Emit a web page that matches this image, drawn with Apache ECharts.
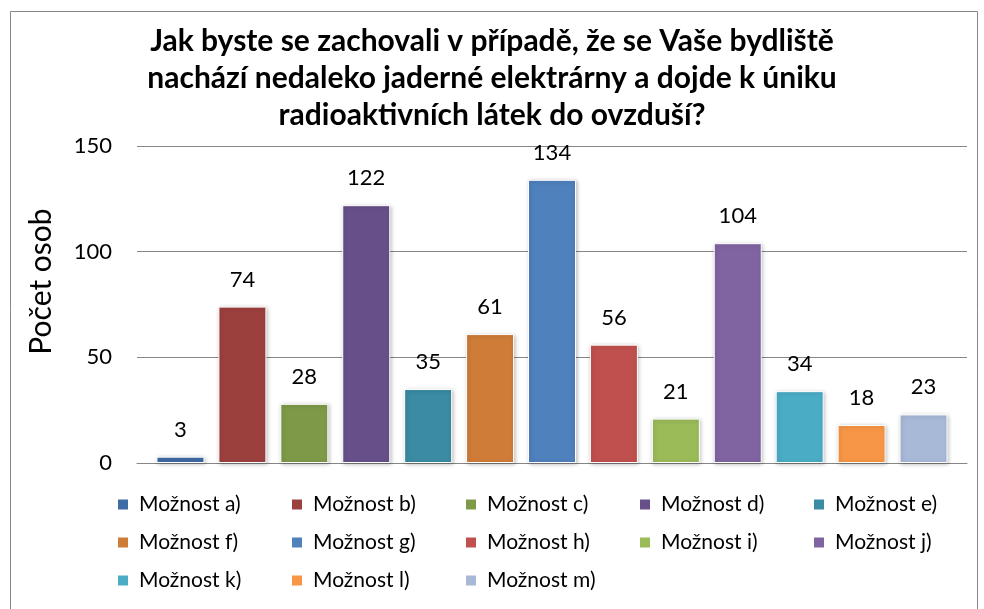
<!DOCTYPE html>
<html>
<head>
<meta charset="utf-8">
<script src="https://cdn.jsdelivr.net/npm/echarts@6/dist/echarts.min.js"></script>
<style>
  html, body { margin: 0; padding: 0; background: #fff; }
  #chart { width: 984px; height: 609px; }
</style>
</head>
<body>
<div id="chart"></div>
<script>
const titleText = "Jak byste se zachovali v případě, že se Vaše bydliště\nnachází nedaleko jaderné elektrárny a dojde k úniku\nradioaktivních látek do ovzduší?";
const seriesNames = ["Možnost a)", "Možnost b)", "Možnost c)", "Možnost d)", "Možnost e)", "Možnost f)", "Možnost g)", "Možnost h)", "Možnost i)", "Možnost j)", "Možnost k)", "Možnost l)", "Možnost m)"];
const seriesValues = [3, 74, 28, 122, 35, 61, 134, 56, 21, 104, 34, 18, 23];
const seriesColors = ["#3F6CA5", "#9C403E", "#7E9A48", "#67508A", "#3A8BA3", "#CF7C39", "#4F81BD", "#C0504D", "#9BBB59", "#8064A2", "#4BACC6", "#F79646", "#A8B9D8"];
const yTicks = [0, 50, 100, 150];

const font = "Lato, 'Noto Sans', sans-serif";
const chart = echarts.init(document.getElementById("chart"));

const series = seriesNames.map((name, i) => ({
  name,
  type: "bar",
  data: [seriesValues[i]],
  barWidth: 48,
  barGap: "29%",
  itemStyle: {
    color: seriesColors[i],
    borderColor: "#ffffff",
    borderWidth: 1,
    shadowColor: "rgba(0,0,0,0.25)",
    shadowBlur: 4,
    shadowOffsetX: 1,
    shadowOffsetY: 1,
  },
  label: {
    show: true,
    position: "top",
    distance: 16,
    color: "#000",
    fontFamily: font,
    fontSize: 22,
  },
}));

chart.setOption({
  animation: false,
  textStyle: { fontFamily: font },
  title: {
    text: titleText,
    left: "center",
    top: 18,
    textStyle: {
      fontFamily: font,
      fontSize: 30,
      fontWeight: "bold",
      lineHeight: 37,
      color: "#000",
    },
  },
  graphic: [
    {
      type: "rect",
      shape: { x: 10.5, y: 11.5, width: 967, height: 620 },
      style: { fill: null, stroke: "#868686", lineWidth: 1 },
      silent: true,
    },
  ],
  legend: {
    left: 116,
    top: 491,
    width: 866,
    padding: 0,
    itemWidth: 12,
    itemHeight: 12,
    itemGap: 11,
    icon: "rect",
    data: seriesNames,
    textStyle: {
      fontFamily: font,
      fontSize: 21,
      color: "#000",
      width: 140,
      lineHeight: 27,
      padding: [0, 0, 0, 5],
    },
  },
  grid: { left: 137, right: 17, top: 146, bottom: 146 },
  xAxis: {
    type: "category",
    data: [""],
    axisLine: { lineStyle: { color: "#868686", width: 1 } },
    axisTick: { show: false },
    axisLabel: { show: false },
  },
  yAxis: {
    type: "value",
    min: yTicks[0],
    max: yTicks[yTicks.length - 1],
    interval: yTicks[1] - yTicks[0],
    name: "Počet osob",
    nameLocation: "middle",
    nameGap: 81,
    nameRotate: 90,
    nameTextStyle: {
      fontFamily: font,
      fontSize: 30,
      color: "#000",
      padding: [0, 0, 0, 46],
    },
    axisLine: { show: false },
    axisTick: { show: false },
    axisLabel: { fontFamily: font, fontSize: 22, color: "#000", margin: 25 },
    splitLine: { lineStyle: { color: "#868686", width: 1 } },
  },
  series,
});
</script>
</body>
</html>
